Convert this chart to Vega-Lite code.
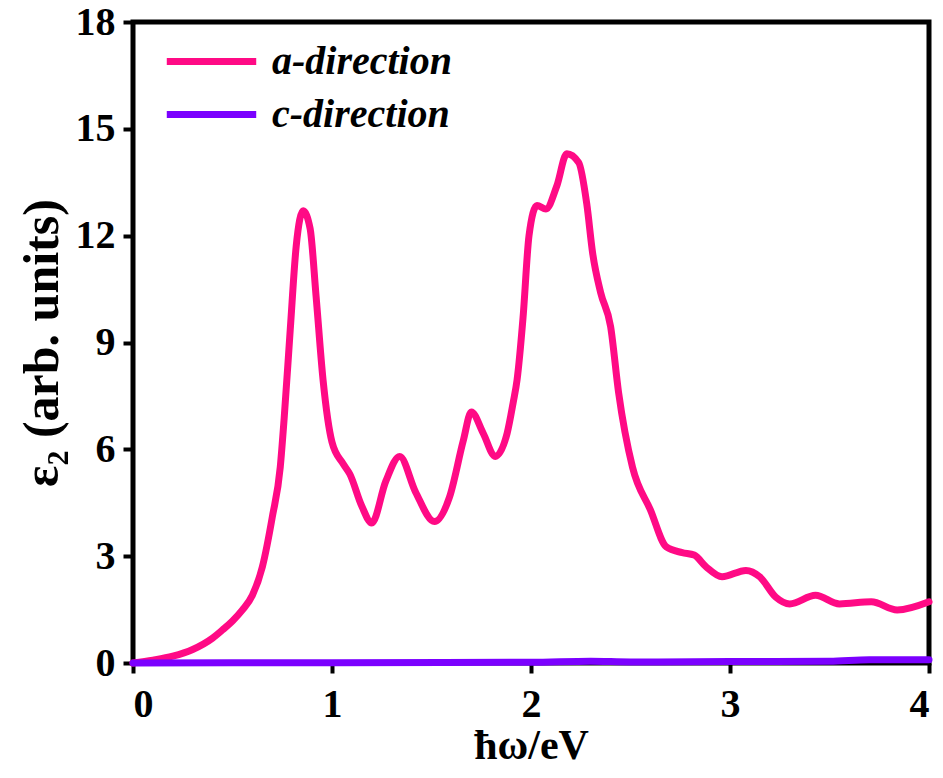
{
  "$schema": "https://vega.github.io/schema/vega-lite/v6.json",
  "autosize": "none",
  "width": 796,
  "height": 641,
  "padding": {"left": 133, "top": 22, "right": 14, "bottom": 115},
  "background": "white",
  "config": {
    "view": {"stroke": "black", "strokeWidth": 5},
    "font": "Liberation Serif"
  },
  "data": {
    "values": [
      {"x": 0, "y": 0, "d": "a-direction"},
      {"x": 0.1, "y": 0.08, "d": "a-direction"},
      {"x": 0.2, "y": 0.19, "d": "a-direction"},
      {"x": 0.3, "y": 0.38, "d": "a-direction"},
      {"x": 0.4, "y": 0.7, "d": "a-direction"},
      {"x": 0.45, "y": 0.93, "d": "a-direction"},
      {"x": 0.5, "y": 1.18, "d": "a-direction"},
      {"x": 0.55, "y": 1.49, "d": "a-direction"},
      {"x": 0.6, "y": 1.9, "d": "a-direction"},
      {"x": 0.65, "y": 2.7, "d": "a-direction"},
      {"x": 0.7, "y": 4.1, "d": "a-direction"},
      {"x": 0.74, "y": 5.5, "d": "a-direction"},
      {"x": 0.76, "y": 6.9, "d": "a-direction"},
      {"x": 0.79, "y": 9.35, "d": "a-direction"},
      {"x": 0.82, "y": 11.7, "d": "a-direction"},
      {"x": 0.855, "y": 12.7, "d": "a-direction"},
      {"x": 0.89, "y": 12.2, "d": "a-direction"},
      {"x": 0.92, "y": 10.3, "d": "a-direction"},
      {"x": 0.955, "y": 7.95, "d": "a-direction"},
      {"x": 1.0, "y": 6.2, "d": "a-direction"},
      {"x": 1.055, "y": 5.6, "d": "a-direction"},
      {"x": 1.09, "y": 5.3, "d": "a-direction"},
      {"x": 1.15, "y": 4.4, "d": "a-direction"},
      {"x": 1.2, "y": 3.93, "d": "a-direction"},
      {"x": 1.27, "y": 5.1, "d": "a-direction"},
      {"x": 1.34, "y": 5.8, "d": "a-direction"},
      {"x": 1.42, "y": 4.8, "d": "a-direction"},
      {"x": 1.515, "y": 3.97, "d": "a-direction"},
      {"x": 1.59, "y": 4.65, "d": "a-direction"},
      {"x": 1.66, "y": 6.25, "d": "a-direction"},
      {"x": 1.7, "y": 7.05, "d": "a-direction"},
      {"x": 1.76, "y": 6.45, "d": "a-direction"},
      {"x": 1.82, "y": 5.8, "d": "a-direction"},
      {"x": 1.88, "y": 6.45, "d": "a-direction"},
      {"x": 1.91, "y": 7.3, "d": "a-direction"},
      {"x": 1.93, "y": 7.95, "d": "a-direction"},
      {"x": 1.96, "y": 9.7, "d": "a-direction"},
      {"x": 1.99, "y": 12.0, "d": "a-direction"},
      {"x": 2.03, "y": 12.85, "d": "a-direction"},
      {"x": 2.075, "y": 12.75, "d": "a-direction"},
      {"x": 2.13, "y": 13.4, "d": "a-direction"},
      {"x": 2.18, "y": 14.3, "d": "a-direction"},
      {"x": 2.24, "y": 14.05, "d": "a-direction"},
      {"x": 2.28, "y": 12.9, "d": "a-direction"},
      {"x": 2.31, "y": 11.5, "d": "a-direction"},
      {"x": 2.35, "y": 10.4, "d": "a-direction"},
      {"x": 2.4, "y": 9.45, "d": "a-direction"},
      {"x": 2.44, "y": 7.6, "d": "a-direction"},
      {"x": 2.51, "y": 5.5, "d": "a-direction"},
      {"x": 2.6, "y": 4.3, "d": "a-direction"},
      {"x": 2.68, "y": 3.26, "d": "a-direction"},
      {"x": 2.76, "y": 3.1, "d": "a-direction"},
      {"x": 2.82, "y": 3.03, "d": "a-direction"},
      {"x": 2.88, "y": 2.7, "d": "a-direction"},
      {"x": 2.96, "y": 2.42, "d": "a-direction"},
      {"x": 3.08, "y": 2.6, "d": "a-direction"},
      {"x": 3.15, "y": 2.42, "d": "a-direction"},
      {"x": 3.23, "y": 1.85, "d": "a-direction"},
      {"x": 3.3, "y": 1.66, "d": "a-direction"},
      {"x": 3.43, "y": 1.9, "d": "a-direction"},
      {"x": 3.55, "y": 1.66, "d": "a-direction"},
      {"x": 3.71, "y": 1.72, "d": "a-direction"},
      {"x": 3.84, "y": 1.49, "d": "a-direction"},
      {"x": 4.0, "y": 1.72, "d": "a-direction"},
      {"x": 0, "y": 0, "d": "c-direction"},
      {"x": 1, "y": 0.01, "d": "c-direction"},
      {"x": 2, "y": 0.02, "d": "c-direction"},
      {"x": 2.3, "y": 0.05, "d": "c-direction"},
      {"x": 2.5, "y": 0.03, "d": "c-direction"},
      {"x": 3, "y": 0.04, "d": "c-direction"},
      {"x": 3.5, "y": 0.05, "d": "c-direction"},
      {"x": 3.7, "y": 0.09, "d": "c-direction"},
      {"x": 4, "y": 0.09, "d": "c-direction"}
    ]
  },
  "mark": {"type": "line", "strokeWidth": 7, "interpolate": "monotone", "strokeCap": "round", "strokeJoin": "round"},
  "encoding": {
    "x": {
      "field": "x", "type": "quantitative",
      "scale": {"domain": [0, 4], "nice": false, "zero": false},
      "axis": {
        "values": [0, 1, 2, 3, 4], "format": "d", "grid": false,
        "domain": false, "tickColor": "black", "tickWidth": 4, "tickSize": 10,
        "labelFont": "Liberation Serif", "labelFontWeight": "bold", "labelFontSize": 40, "labelColor": "black", "labelPadding": 11,
        "title": "ħω/eV", "titleFont": "Liberation Serif", "titleFontWeight": "bold", "titleFontSize": 42, "titleColor": "black", "titlePadding": 1
      }
    },
    "y": {
      "field": "y", "type": "quantitative",
      "scale": {"domain": [0, 18], "nice": false},
      "axis": {
        "values": [0, 3, 6, 9, 12, 15, 18], "format": "d", "grid": false,
        "domain": false, "tickColor": "black", "tickWidth": 4, "tickSize": 10,
        "labelFont": "Liberation Serif", "labelFontWeight": "bold", "labelFontSize": 40, "labelColor": "black", "labelPadding": 8,
        "title": "ε₂ (arb. units)", "titleFont": "Liberation Serif", "titleFontWeight": "bold", "titleFontSize": 50, "titleColor": "black", "titlePadding": 8
      }
    },
    "color": {
      "field": "d", "type": "nominal",
      "scale": {"domain": ["a-direction", "c-direction"], "range": ["#FF0A85", "#7B00FF"]},
      "legend": {
        "orient": "none", "legendX": 30, "legendY": 13, "title": null,
        "symbolType": "stroke", "symbolStrokeWidth": 7, "symbolSize": 8000,
        "labelFont": "Liberation Serif", "labelFontStyle": "italic", "labelFontWeight": "bold", "labelFontSize": 40, "labelColor": "black",
        "labelOffset": 12, "rowPadding": 0, "clipHeight": 53, "labelLimit": 500
      }
    }
  }
}
